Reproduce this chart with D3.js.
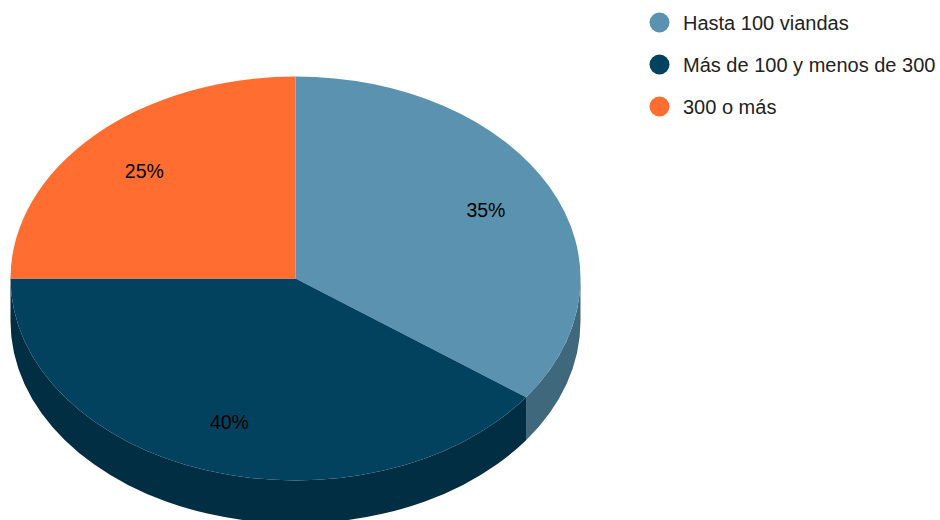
<!DOCTYPE html>
<html>
<head>
<meta charset="utf-8">
<script src="https://cdn.jsdelivr.net/npm/d3@7"></script>
<style>
  html, body { margin: 0; padding: 0; background: #ffffff; }
  svg { display: block; }
  text { font-family: Arial, "Liberation Sans", sans-serif; }
</style>
</head>
<body>
<svg id="chart" width="940" height="520"></svg>
<script>
// Distribución por cantidad de viandas
const categories = ["Hasta 100 viandas", "Más de 100 y menos de 300", "300 o más"];
const values = [35, 40, 25];
const topColors = ["#5a92b0", "#02425f", "#ff6d31"];
const sideColors = ["#3f687d", "#012e43", "#b34c22"];

const width = 940, height = 520;
const cx = 295.5, cy = 278.5;   // centre of the top face
const rx = 285, ry = 202;       // ellipse radii of the tilted disc
const depth = 43;               // thickness of the disc

const svg = d3.select("#chart");

// Angles measured clockwise from 12 o'clock
const pie = d3.pie().sort(null).value(d => d.value);
const arcs = pie(categories.map((c, i) => ({ name: c, value: values[i], i })));

const pt = (a, dy = 0) => [cx + rx * Math.sin(a), cy - ry * Math.cos(a) + dy];
const fmt = p => p[0].toFixed(2) + "," + p[1].toFixed(2);

function topPath(a0, a1) {
  const large = (a1 - a0) > Math.PI ? 1 : 0;
  return "M" + fmt([cx, cy]) + "L" + fmt(pt(a0)) +
         "A" + rx + "," + ry + " 0 " + large + " 1 " + fmt(pt(a1)) + "Z";
}

function sidePath(a0, a1) {
  // only the front half of the rim (between 90° and 270°) is visible
  const s0 = Math.max(a0, Math.PI / 2), s1 = Math.min(a1, 3 * Math.PI / 2);
  if (s1 <= s0) return null;
  const large = (s1 - s0) > Math.PI ? 1 : 0;
  return "M" + fmt(pt(s0)) +
         "A" + rx + "," + ry + " 0 " + large + " 1 " + fmt(pt(s1)) +
         "L" + fmt(pt(s1, depth)) +
         "A" + rx + "," + ry + " 0 " + large + " 0 " + fmt(pt(s0, depth)) + "Z";
}

const g = svg.append("g");

// rim walls
g.selectAll("path.side")
  .data(arcs.filter(d => sidePath(d.startAngle, d.endAngle)))
  .join("path")
  .attr("class", "side")
  .attr("d", d => sidePath(d.startAngle, d.endAngle))
  .attr("fill", d => sideColors[d.data.i]);

// top faces
g.selectAll("path.top")
  .data(arcs)
  .join("path")
  .attr("class", "top")
  .attr("d", d => topPath(d.startAngle, d.endAngle))
  .attr("fill", d => topColors[d.data.i]);

// percentage labels
const total = d3.sum(values);
const labelR = 0.75;
g.selectAll("text.pct")
  .data(arcs)
  .join("text")
  .attr("class", "pct")
  .attr("x", d => cx + rx * labelR * Math.sin((d.startAngle + d.endAngle) / 2))
  .attr("y", d => cy - ry * labelR * Math.cos((d.startAngle + d.endAngle) / 2))
  .attr("dy", "0.35em")
  .attr("text-anchor", "middle")
  .attr("font-size", 19.5)
  .attr("fill", "#000000")
  .text(d => Math.round(d.data.value / total * 100) + "%");

// legend
const legendY = d3.scalePoint().domain(categories).range([22.5, 106.5]);
const legend = svg.append("g")
  .selectAll("g")
  .data(categories)
  .join("g")
  .attr("transform", d => `translate(659.5,${legendY(d)})`);

legend.append("circle")
  .attr("r", 10)
  .attr("fill", (d, i) => topColors[i]);

legend.append("text")
  .attr("x", 23.5)
  .attr("dy", "0.35em")
  .attr("font-size", 20)
  .attr("fill", "#222222")
  .text(d => d);
</script>
</body>
</html>
